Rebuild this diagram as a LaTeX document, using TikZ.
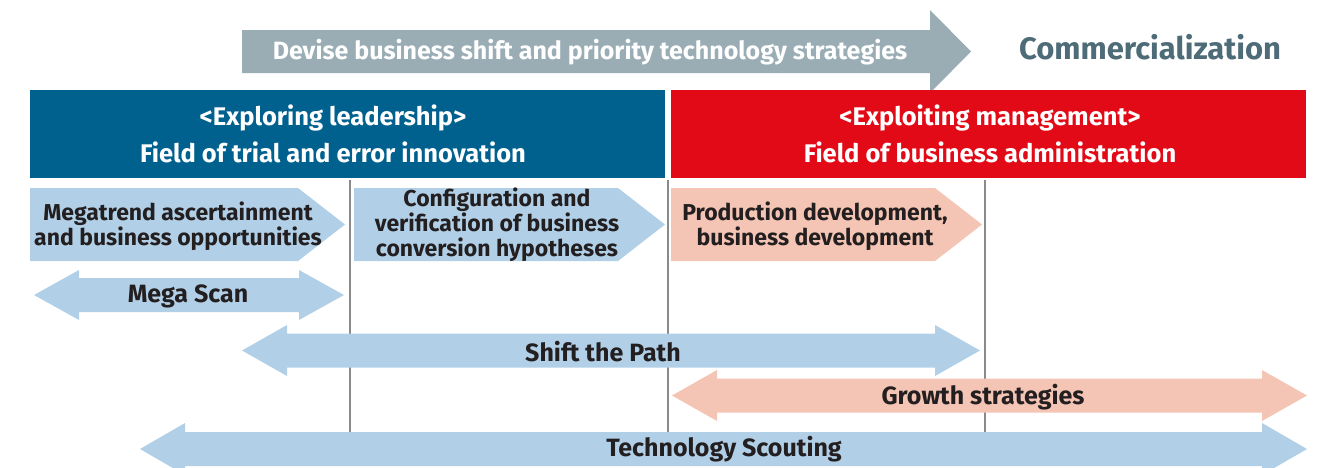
\documentclass[tikz,border=0pt]{standalone}
\usepackage{fontspec}
\setmainfont{Fira Sans}
\definecolor{hdblue}{HTML}{00618F}
\definecolor{hdred}{HTML}{E30A17}
\definecolor{lightblue}{HTML}{B1D0E7}
\definecolor{peach}{HTML}{F4C5B4}
\definecolor{greyarrow}{HTML}{9AADB5}
\definecolor{commcol}{HTML}{4E6B78}
\definecolor{txtdark}{HTML}{231F20}
\definecolor{sepline}{HTML}{8A8A8A}
\begin{document}
\begin{tikzpicture}[x=1pt,y=-1pt,
	boxtext/.style={font=\bfseries\fontsize{23}{25}\selectfont, text=txtdark, align=center, inner sep=0pt},
	spantext/.style={boxtext, font=\bfseries\fontsize{25}{28}\selectfont},
	headtext/.style={font=\bfseries\fontsize{25.5}{37}\selectfont, text=white, align=center, inner sep=0pt},
	sepline/.style={draw=sepline, line width=1.3pt}]
	\useasboundingbox (0,0) rectangle (1320,467);
	\clip (0,0) rectangle (1320,467);

	% top arrow and headers
	\fill[greyarrow] (242,30) -- (930,30) -- (930,10) -- (971,51.5) -- (930,93) -- (930,73) -- (242,73) -- cycle;
	\fill[hdblue] (30,90) rectangle (665,178);
	\fill[hdred] (671,90) rectangle (1306,178);

	\node[headtext, font=\bfseries\fontsize{25}{28}\selectfont] at (590,52) (devise) {Devise business shift and priority technology strategies};
	\node[font=\bfseries\fontsize{31}{34}\selectfont, text=commcol, inner sep=0pt] at (1150,47) (comm) {Commercialization};
	\node[headtext] at (333,134) (explore) {<Exploring leadership>\\Field of trial and error innovation};
	\node[headtext] at (990,134) (exploit) {<Exploiting management>\\Field of business administration};

	% separators
	\coordinate (s1top) at (350,180); \coordinate (s1bot) at (350,440);
	\coordinate (s2top) at (668,180); \coordinate (s2bot) at (668,440);
	\coordinate (s3top) at (985,180); \coordinate (s3bot) at (985,440);
	\draw[sepline] (s1top) -- (s1bot);
	\draw[sepline] (s2top) -- (s2bot);
	\draw[sepline] (s3top) -- (s3bot);

	% phases
	\fill[lightblue] (30,188) -- (298,188) -- (345,224.5) -- (298,261) -- (30,261) -- cycle;
	\fill[lightblue] (354,188) -- (618,188) -- (665,224.5) -- (618,261) -- (354,261) -- cycle;
	\fill[peach] (671,188) -- (935,188) -- (982,224.5) -- (935,261) -- (671,261) -- cycle;

	\node[boxtext] at (178,226) (mega) {Megatrend ascertainment\\and business opportunities};
	\node[boxtext] at (497,225) (config) {Configuration and\\verification of business\\conversion hypotheses};
	\node[boxtext] at (815,226) (prod) {Production development,\\business development};

	% spans
	\fill[lightblue] (34,295) -- (79,270) -- (79,278) -- (299,278) -- (299,270) -- (344,295) -- (299,320) -- (299,312) -- (79,312) -- (79,320) -- cycle;
	\fill[lightblue] (242,350.5) -- (287,325) -- (287,333.5) -- (935,333.5) -- (935,325) -- (980,350.5) -- (935,376) -- (935,367.5) -- (287,367.5) -- (287,376) -- cycle;
	\fill[peach] (672,395.5) -- (717,370) -- (717,378.5) -- (1262,378.5) -- (1262,370) -- (1307,395.5) -- (1262,421) -- (1262,412.5) -- (717,412.5) -- (717,421) -- cycle;
	\fill[lightblue] (140,449) -- (185,423) -- (185,432) -- (1262,432) -- (1262,423) -- (1307,449) -- (1262,475) -- (1262,466) -- (185,466) -- (185,475) -- cycle;

	\node[spantext] at (188,296.5) (megascan) {Mega Scan};
	\node[spantext] at (603,351.5) (shift) {Shift the Path};
	\node[spantext] at (983,397) (growth) {Growth strategies};
	\node[spantext] at (724,449) (scout) {Technology Scouting};
\end{tikzpicture}
\end{document}
